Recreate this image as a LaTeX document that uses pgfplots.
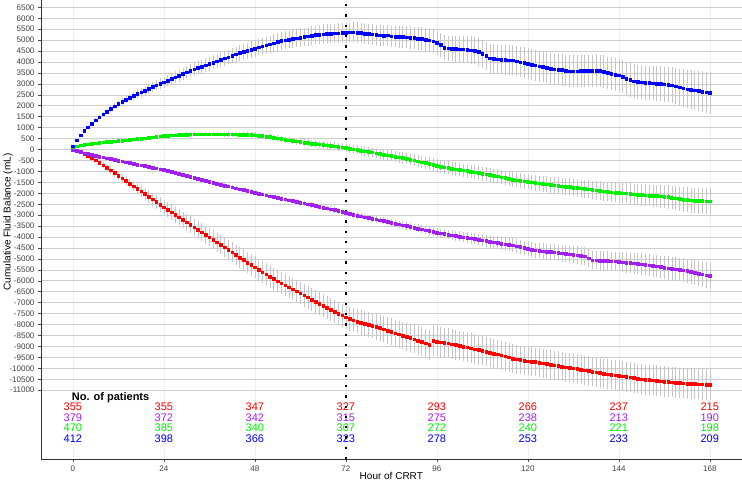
\documentclass[border=0pt]{standalone}
\usepackage{pgfplots}
\pgfplotsset{compat=1.18}
\usepackage{pgfplotstable}
\usepackage{fontspec}
\setmainfont{Liberation Sans}
\definecolor{cRed}{RGB}{255,0,0}
\definecolor{cPurple}{RGB}{160,32,240}
\definecolor{cGreen}{RGB}{0,240,0}
\definecolor{cBlue}{RGB}{0,0,255}
\definecolor{errgray}{RGB}{198,198,198}
\definecolor{gridgray}{RGB}{205,205,205}

% hour, mean and half error bar of each group (blue, green, purple, red)
\pgfplotstableread{
h b be g ge p pe r re
0 150 30 100 20 0 10 0 10
1 420 40 150 20 -60 10 -60 20
2 650 50 190 30 -110 20 -130 40
3 850 60 220 30 -160 20 -210 60
4 1030 70 250 30 -200 20 -300 70
5 1190 80 270 30 -240 20 -390 90
6 1340 90 290 40 -280 30 -490 100
7 1480 100 310 40 -320 30 -600 110
8 1610 110 330 40 -355 30 -710 130
9 1740 120 350 40 -390 30 -830 140
10 1860 130 365 40 -430 30 -950 150
11 1980 140 380 50 -465 40 -1070 170
12 2090 150 395 50 -500 40 -1190 180
13 2200 160 410 50 -540 40 -1310 190
14 2290 170 425 50 -575 40 -1430 210
15 2380 180 445 60 -610 50 -1550 220
16 2460 180 465 60 -645 50 -1670 230
17 2540 190 485 60 -680 50 -1790 250
18 2620 200 505 60 -715 50 -1910 260
19 2700 210 525 70 -750 60 -2030 270
20 2780 220 545 70 -785 60 -2150 290
21 2860 230 565 70 -820 60 -2270 300
22 2940 230 585 70 -855 60 -2390 310
23 3010 240 605 80 -890 70 -2510 330
24 3080 250 625 80 -925 70 -2630 340
25 3155 260 640 80 -970 70 -2745 350
26 3230 260 655 80 -1015 70 -2860 350
27 3305 270 665 90 -1060 70 -2975 360
28 3380 270 675 90 -1105 70 -3090 370
29 3455 280 685 90 -1150 80 -3205 370
30 3530 290 690 90 -1195 80 -3320 380
31 3605 290 695 90 -1240 80 -3435 390
32 3680 300 700 90 -1285 80 -3550 390
33 3740 300 705 90 -1330 80 -3665 400
34 3800 310 705 100 -1375 80 -3780 410
35 3860 310 710 100 -1420 80 -3895 410
36 3920 320 710 100 -1465 80 -4010 420
37 3980 320 710 100 -1510 80 -4125 430
38 4040 330 710 100 -1555 80 -4240 430
39 4110 330 705 100 -1595 90 -4355 440
40 4170 340 705 110 -1640 90 -4470 450
41 4230 340 700 110 -1680 90 -4585 450
42 4300 340 700 110 -1720 90 -4700 460
43 4360 350 695 110 -1765 90 -4815 470
44 4420 350 690 110 -1805 90 -4930 470
45 4470 360 685 110 -1845 100 -5045 480
46 4520 360 680 120 -1885 100 -5160 490
47 4570 370 670 120 -1925 100 -5270 490
48 4620 370 660 120 -1965 100 -5380 500
49 4670 370 640 120 -2005 100 -5490 500
50 4720 380 620 130 -2045 100 -5600 500
51 4770 380 600 130 -2085 100 -5705 500
52 4820 390 575 130 -2125 100 -5810 500
53 4870 390 545 130 -2165 110 -5910 510
54 4920 400 515 140 -2200 110 -6010 510
55 4970 400 485 140 -2240 110 -6105 510
56 5000 400 455 140 -2275 110 -6200 510
57 5030 410 425 140 -2310 110 -6290 510
58 5060 410 400 150 -2350 110 -6383 510
59 5090 420 375 150 -2385 110 -6476 510
60 5120 420 350 150 -2420 110 -6570 510
61 5150 420 325 150 -2460 110 -6663 520
62 5180 430 300 160 -2495 110 -6756 520
63 5210 430 280 160 -2530 120 -6850 520
64 5240 430 260 160 -2570 120 -6943 520
65 5260 430 240 160 -2605 120 -7036 520
66 5280 440 215 170 -2645 120 -7130 520
67 5290 440 195 170 -2680 120 -7223 520
68 5300 440 175 170 -2720 120 -7316 520
69 5310 440 150 180 -2760 130 -7405 530
70 5320 450 125 180 -2800 130 -7490 530
71 5330 450 100 180 -2845 130 -7580 530
72 5340 450 80 190 -2895 130 -7670 530
73 5355 450 50 190 -2935 130 -7740 540
74 5370 460 20 200 -2975 140 -7800 540
75 5350 460 -10 200 -3015 140 -7855 550
76 5330 460 -40 210 -3050 140 -7905 560
77 5300 460 -70 210 -3085 140 -7955 560
78 5290 470 -100 220 -3120 150 -8005 570
79 5270 470 -130 220 -3155 150 -8055 580
80 5240 470 -160 230 -3190 150 -8105 580
81 5220 470 -190 230 -3225 150 -8155 590
82 5200 480 -225 240 -3260 160 -8210 600
83 5220 480 -260 240 -3300 160 -8270 600
84 5180 480 -290 250 -3340 160 -8330 610
85 5160 490 -320 240 -3380 160 -8390 620
86 5150 490 -350 250 -3415 170 -8445 620
87 5150 500 -385 260 -3450 170 -8500 630
88 5140 500 -420 260 -3490 170 -8555 640
89 5120 510 -455 270 -3525 180 -8610 640
90 5100 520 -490 270 -3565 180 -8670 650
91 5080 520 -530 280 -3605 180 -8730 660
92 5060 530 -570 280 -3640 190 -8790 660
93 5030 530 -610 290 -3680 190 -8850 670
94 4990 540 -650 290 -3720 190 -8920 680
95 4950 540 -700 300 -3764 200 -8750 680
96 4880 550 -740 300 -3790 200 -8770 690
97 4780 560 -780 300 -3820 210 -8800 690
98 4650 570 -810 300 -3850 210 -8830 690
99 4630 580 -840 300 -3880 220 -8860 690
100 4620 580 -865 310 -3910 220 -8890 680
101 4600 590 -890 310 -3940 230 -8920 680
102 4590 600 -920 310 -3970 230 -8960 680
103 4580 610 -950 310 -4000 240 -9000 680
104 4560 620 -980 310 -4025 240 -9040 680
105 4540 630 -1010 310 -4055 250 -9080 680
106 4520 630 -1040 320 -4085 250 -9120 670
107 4460 640 -1070 320 -4110 260 -9160 670
108 4380 650 -1100 320 -4140 270 -9200 670
109 4280 650 -1130 320 -4170 270 -9240 670
110 4180 660 -1160 320 -4200 280 -9280 670
111 4160 660 -1190 320 -4230 280 -9320 670
112 4130 670 -1220 330 -4260 290 -9360 660
113 4110 670 -1260 330 -4295 290 -9400 660
114 4100 680 -1300 330 -4320 300 -9450 660
115 4090 680 -1340 330 -4345 300 -9500 660
116 4080 680 -1370 330 -4372 310 -9550 660
117 4040 690 -1400 330 -4410 310 -9580 660
118 4000 690 -1420 340 -4450 320 -9610 650
119 3970 700 -1445 340 -4490 320 -9640 650
120 3930 700 -1470 340 -4530 330 -9670 650
121 3890 700 -1500 340 -4565 340 -9690 650
122 3850 700 -1525 350 -4600 340 -9710 650
123 3810 710 -1545 350 -4620 350 -9740 650
124 3780 710 -1565 360 -4640 350 -9770 660
125 3740 710 -1590 360 -4660 360 -9800 660
126 3700 710 -1610 370 -4680 360 -9830 660
127 3680 710 -1630 370 -4700 370 -9860 660
128 3660 710 -1650 380 -4720 370 -9890 660
129 3640 720 -1670 380 -4740 380 -9920 660
130 3610 720 -1690 390 -4760 380 -9950 660
131 3590 720 -1710 390 -4783 390 -9975 660
132 3580 720 -1730 400 -4800 390 -10000 670
133 3590 720 -1750 400 -4830 400 -10030 670
134 3600 730 -1770 400 -4855 400 -10060 670
135 3600 730 -1790 410 -4875 410 -10090 670
136 3600 730 -1815 410 -4960 410 -10120 670
137 3600 740 -1840 420 -5057 420 -10150 670
138 3610 740 -1865 420 -5060 420 -10180 670
139 3600 740 -1890 430 -5070 430 -10210 670
140 3560 750 -1905 430 -5080 430 -10235 680
141 3500 750 -1925 440 -5090 440 -10260 680
142 3460 750 -1945 440 -5100 440 -10285 680
143 3420 760 -1965 450 -5110 450 -10310 680
144 3390 760 -1980 450 -5120 450 -10335 680
145 3330 760 -1990 460 -5140 460 -10360 680
146 3250 770 -2000 460 -5160 460 -10385 680
147 3180 770 -2020 470 -5180 470 -10410 680
148 3120 770 -2040 480 -5200 470 -10440 680
149 3100 780 -2057 480 -5210 480 -10470 680
150 3080 780 -2070 490 -5235 490 -10500 690
151 3060 780 -2085 500 -5260 490 -10515 690
152 3050 790 -2100 500 -5285 500 -10530 690
153 3040 790 -2110 510 -5310 500 -10545 690
154 3020 790 -2120 520 -5335 510 -10560 690
155 3000 800 -2135 520 -5363 510 -10580 690
156 2990 800 -2150 530 -5390 520 -10600 690
157 2970 810 -2165 540 -5415 530 -10615 690
158 2950 830 -2200 540 -5440 530 -10630 690
159 2900 840 -2230 550 -5465 540 -10645 690
160 2850 850 -2260 560 -5490 540 -10660 690
161 2800 860 -2280 560 -5514 550 -10675 700
162 2760 880 -2300 570 -5550 550 -10690 700
163 2740 890 -2316 580 -5595 560 -10700 700
164 2710 900 -2325 580 -5637 570 -10710 700
165 2680 910 -2335 590 -5670 570 -10720 700
166 2650 930 -2345 600 -5705 580 -10730 700
167 2620 940 -2355 600 -5740 580 -10735 700
168 2590 950 -2362 610 -5774 590 -10740 700
}\fb

\begin{document}
\begin{tikzpicture}
\begin{axis}[scale only axis,width=701pt,height=459pt,
xmin=-8.4,xmax=176.4,ymin=-14150,ymax=6820,
xtick={0,24,...,168},ytick={-11000,-10500,...,6500},
scaled ticks=false,
axis x line*=bottom,axis y line*=left,
axis line style={black!80,line width=0.7pt},
tick align=outside,major tick length=3pt,tick style={black!70,line width=0.6pt},
xmajorgrids,ymajorgrids,
x grid style={black!6,line width=0.6pt},
y grid style={gridgray,line width=0.7pt},
tick label style={font=\fontsize{8}{9}\selectfont,text=black!75},
/pgf/number format/assume math mode=true,/pgf/number format/1000 sep={},
xlabel={Hour of CRRT},ylabel={Cumulative Fluid Balance (mL)},
label style={font=\fontsize{9.5}{11}\selectfont},
every axis y label/.style={at={(axis description cs:0,0.517)},xshift=-33pt,rotate=90,anchor=center},
every axis x label/.style={at={(axis description cs:0.5,0)},anchor=center,yshift=-17pt},
clip=false]
% error bars first, points on top
\addplot[draw=none,mark=none,forget plot,error bars/.cd,y dir=both,y explicit,error mark=none,error bar style={draw=errgray,line width=0.55pt,solid}] table[x=h,y=r,y error=re]{\fb};
\addplot[draw=none,mark=none,forget plot,error bars/.cd,y dir=both,y explicit,error mark=none,error bar style={draw=errgray,line width=0.55pt,solid}] table[x=h,y=p,y error=pe]{\fb};
\addplot[draw=none,mark=none,forget plot,error bars/.cd,y dir=both,y explicit,error mark=none,error bar style={draw=errgray,line width=0.55pt,solid}] table[x=h,y=g,y error=ge]{\fb};
\addplot[draw=none,mark=none,forget plot,error bars/.cd,y dir=both,y explicit,error mark=none,error bar style={draw=errgray,line width=0.55pt,solid}] table[x=h,y=b,y error=be]{\fb};
\addplot[only marks,mark=square*,mark size=1.3pt,cRed] table[x=h,y=r]{\fb};
\addplot[only marks,mark=square*,mark size=1.3pt,cPurple] table[x=h,y=p]{\fb};
\addplot[only marks,mark=square*,mark size=1.3pt,cGreen] table[x=h,y=g]{\fb};
\addplot[only marks,mark=square*,mark size=1.3pt,cBlue] table[x=h,y=b]{\fb};
% number at risk
\node[anchor=base west,inner sep=0pt,font=\bfseries\fontsize{11}{12}\selectfont] at (axis cs:-0.3,-11465) {No. of patients};
\begin{scope}[every node/.style={anchor=base,inner sep=0pt,font=\fontsize{11}{12}\selectfont}]
\node[cRed] at (axis cs:0,-11930) {355};
\node[cRed] at (axis cs:24,-11930) {355};
\node[cRed] at (axis cs:48,-11930) {347};
\node[cRed] at (axis cs:72,-11930) {327};
\node[cRed] at (axis cs:96,-11930) {293};
\node[cRed] at (axis cs:120,-11930) {266};
\node[cRed] at (axis cs:144,-11930) {237};
\node[cRed] at (axis cs:168,-11930) {215};
\node[cPurple] at (axis cs:0,-12415) {379};
\node[cPurple] at (axis cs:24,-12415) {372};
\node[cPurple] at (axis cs:48,-12415) {342};
\node[cPurple] at (axis cs:72,-12415) {315};
\node[cPurple] at (axis cs:96,-12415) {275};
\node[cPurple] at (axis cs:120,-12415) {238};
\node[cPurple] at (axis cs:144,-12415) {213};
\node[cPurple] at (axis cs:168,-12415) {190};
\node[cGreen] at (axis cs:0,-12900) {470};
\node[cGreen] at (axis cs:24,-12900) {385};
\node[cGreen] at (axis cs:48,-12900) {340};
\node[cGreen] at (axis cs:72,-12900) {307};
\node[cGreen] at (axis cs:96,-12900) {272};
\node[cGreen] at (axis cs:120,-12900) {240};
\node[cGreen] at (axis cs:144,-12900) {221};
\node[cGreen] at (axis cs:168,-12900) {198};
\node[cBlue] at (axis cs:0,-13385) {412};
\node[cBlue] at (axis cs:24,-13385) {398};
\node[cBlue] at (axis cs:48,-13385) {366};
\node[cBlue] at (axis cs:72,-13385) {323};
\node[cBlue] at (axis cs:96,-13385) {278};
\node[cBlue] at (axis cs:120,-13385) {253};
\node[cBlue] at (axis cs:144,-13385) {233};
\node[cBlue] at (axis cs:168,-13385) {209};
\end{scope}
% 72 h reference line
\addplot[black,line width=2.3pt,dash pattern=on 2.3pt off 8pt,forget plot] coordinates {(72,6650) (72,-14150)};
\end{axis}
\end{tikzpicture}
\end{document}
